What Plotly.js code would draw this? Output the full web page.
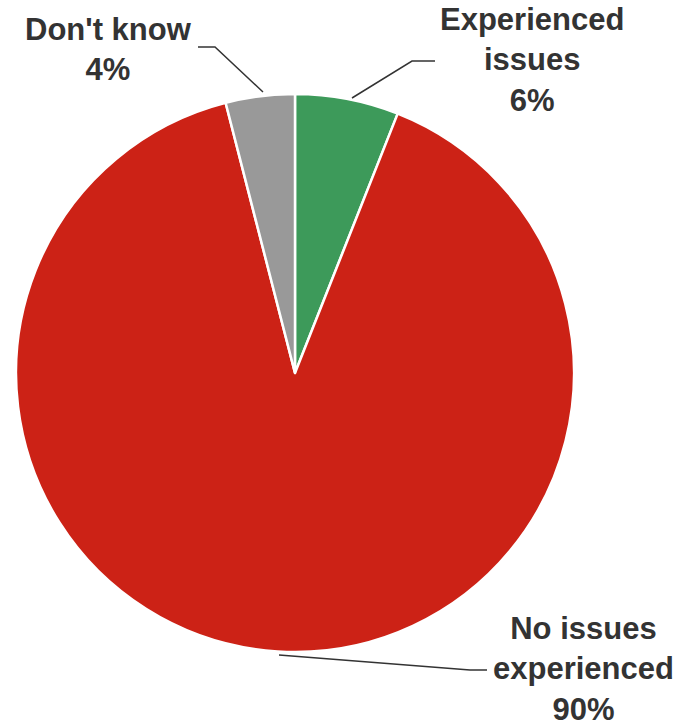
<!DOCTYPE html>
<html>
<head>
<meta charset="utf-8">
<script src="https://cdn.plot.ly/plotly-3.0.1.min.js"></script>
<style>html,body{margin:0;padding:0;background:#fff;}#chart{width:691px;height:726px;}</style>
</head>
<body>
<div id="chart"></div>
<script>
const categories = ["Experienced issues", "No issues experienced", "Don't know"];
const values = [6, 90, 4];
const labelLines = [["Experienced", "issues"], ["No issues", "experienced"], ["Don't know"]];
const colors = ["#3d9a5a", "#cc2216", "#999999"];

const W = 691, H = 726;
const cx = 295, cy = 373, r = 279;

// label placement (pixel space)
const labelPos = [
  {x: 532, y: 60},
  {x: 583, y: 669},
  {x: 108, y: 49}
];
const leaders = [
  [[352, 98], [412, 61], [435, 61]],
  [[279, 655], [470, 670], [487, 670]],
  [[263, 92], [215, 47], [198, 47]]
];

const trace = {
  type: 'pie',
  labels: categories,
  values: values,
  sort: false,
  direction: 'clockwise',
  rotation: 0,
  textinfo: 'none',
  hoverinfo: 'label+percent',
  marker: {colors: colors, line: {color: '#ffffff', width: 2.5}},
  domain: {x: [(cx - r) / W, (cx + r) / W], y: [(H - cy - r) / H, (H - cy + r) / H]},
  showlegend: false
};

const annotations = categories.map((c, i) => ({
  xref: 'x', yref: 'y', x: labelPos[i].x, y: labelPos[i].y,
  xanchor: 'center', yanchor: 'middle', showarrow: false, align: 'center',
  text: labelLines[i].concat([values[i] + '%']).join('<br>'),
  font: {family: '"Liberation Sans", Arial, sans-serif', size: 31, color: '#333333', weight: 'bold'}
}));

const shapes = leaders.map(pts => ({
  type: 'path', xref: 'x', yref: 'y',
  path: 'M' + pts.map(p => p[0] + ',' + p[1]).join(' L'),
  line: {color: '#333333', width: 1.5}
}));

const layout = {
  width: W, height: H,
  margin: {l: 0, r: 0, t: 0, b: 0},
  paper_bgcolor: '#ffffff', plot_bgcolor: 'rgba(0,0,0,0)',
  xaxis: {range: [0, W], visible: false, fixedrange: true},
  yaxis: {range: [H, 0], visible: false, fixedrange: true},
  annotations: annotations,
  shapes: shapes,
  showlegend: false
};

Plotly.newPlot('chart', [trace], layout, {displayModeBar: false, staticPlot: true});
</script>
</body>
</html>
